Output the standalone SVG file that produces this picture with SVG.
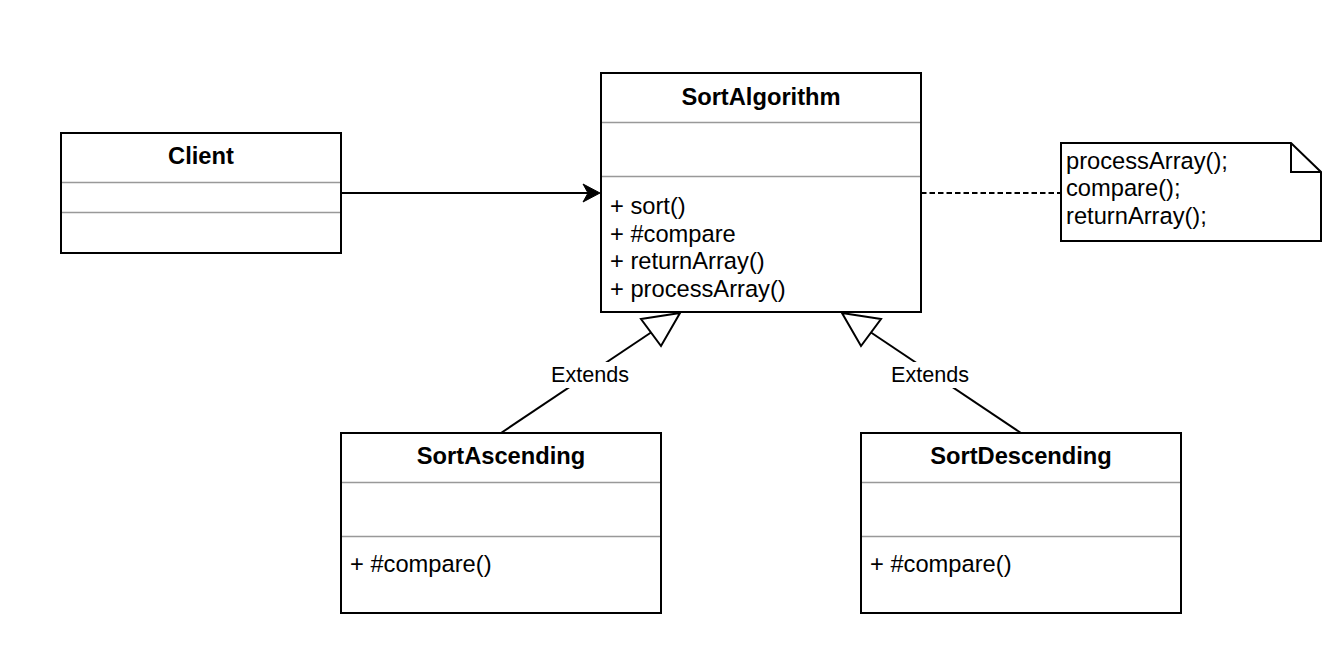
<svg xmlns="http://www.w3.org/2000/svg" width="1342" height="652" viewBox="0 0 1342 652">
<style>
.box{fill:#fff;stroke:#000;stroke-width:2}
.div{stroke:#999;stroke-width:1.5}
.title{font-family:"Liberation Sans",Arial,sans-serif;font-size:23.7px;font-weight:bold;text-anchor:middle;fill:#000}
.attr{font-family:"Liberation Sans",Arial,sans-serif;font-size:23.7px;fill:#000}
.lbl{font-family:"Liberation Sans",Arial,sans-serif;font-size:21.6px;text-anchor:middle;fill:#000}
.edge{fill:none;stroke:#000;stroke-width:2}
</style>
<rect width="1342" height="652" fill="#fff"/>
<g id="connectors">
  <line class="edge" x1="341" y1="193" x2="589" y2="193"/>
  <polygon points="600,193 583,184 588,193 583,202" fill="#000" stroke="#000" stroke-width="1"/>
  <line class="edge" x1="921" y1="193" x2="1061" y2="193" stroke-dasharray="5.5 3"/>
  <line class="edge" x1="501" y1="433" x2="651" y2="332.5"/>
  <polygon class="edge" points="680,313 641,319 661,346"/>
  <line class="edge" x1="1021" y1="433" x2="871" y2="332.5"/>
  <polygon class="edge" points="842,313 881,319 861,346"/>
  <rect x="550" y="362" width="80" height="26" fill="#fff"/>
  <text class="lbl" x="590" y="381.5">Extends</text>
  <rect x="890" y="362" width="80" height="26" fill="#fff"/>
  <text class="lbl" x="930" y="381.5">Extends</text>
</g>
<g id="client">
  <rect class="box" x="61" y="133" width="280" height="120"/>
  <line class="div" x1="62" y1="182.5" x2="340" y2="182.5"/>
  <line class="div" x1="62" y1="212.5" x2="340" y2="212.5"/>
  <text class="title" x="201" y="164">Client</text>
</g>
<g id="sortalgorithm">
  <rect class="box" x="601" y="73" width="320" height="239"/>
  <line class="div" x1="602" y1="122.5" x2="920" y2="122.5"/>
  <line class="div" x1="602" y1="176.5" x2="920" y2="176.5"/>
  <text class="title" x="761" y="105">SortAlgorithm</text>
  <text class="attr" x="610" y="214">+ sort()</text>
  <text class="attr" x="610" y="241.5">+ #compare</text>
  <text class="attr" x="610" y="269">+ returnArray()</text>
  <text class="attr" x="610" y="296.5">+ processArray()</text>
</g>
<g id="note">
  <path class="box" d="M1061,143 H1291 L1321,172 V241 H1061 Z"/>
  <path class="edge" d="M1291,143 V172 H1321"/>
  <text class="attr" x="1066" y="168.5">processArray();</text>
  <text class="attr" x="1066" y="196">compare();</text>
  <text class="attr" x="1066" y="223.5">returnArray();</text>
</g>
<g id="sortascending">
  <rect class="box" x="341" y="433" width="320" height="180"/>
  <line class="div" x1="342" y1="482.5" x2="660" y2="482.5"/>
  <line class="div" x1="342" y1="536.5" x2="660" y2="536.5"/>
  <text class="title" x="501" y="464">SortAscending</text>
  <text class="attr" x="350" y="572">+ #compare()</text>
</g>
<g id="sortdescending">
  <rect class="box" x="861" y="433" width="320" height="180"/>
  <line class="div" x1="862" y1="482.5" x2="1180" y2="482.5"/>
  <line class="div" x1="862" y1="536.5" x2="1180" y2="536.5"/>
  <text class="title" x="1021" y="464">SortDescending</text>
  <text class="attr" x="870" y="572">+ #compare()</text>
</g>
</svg>
